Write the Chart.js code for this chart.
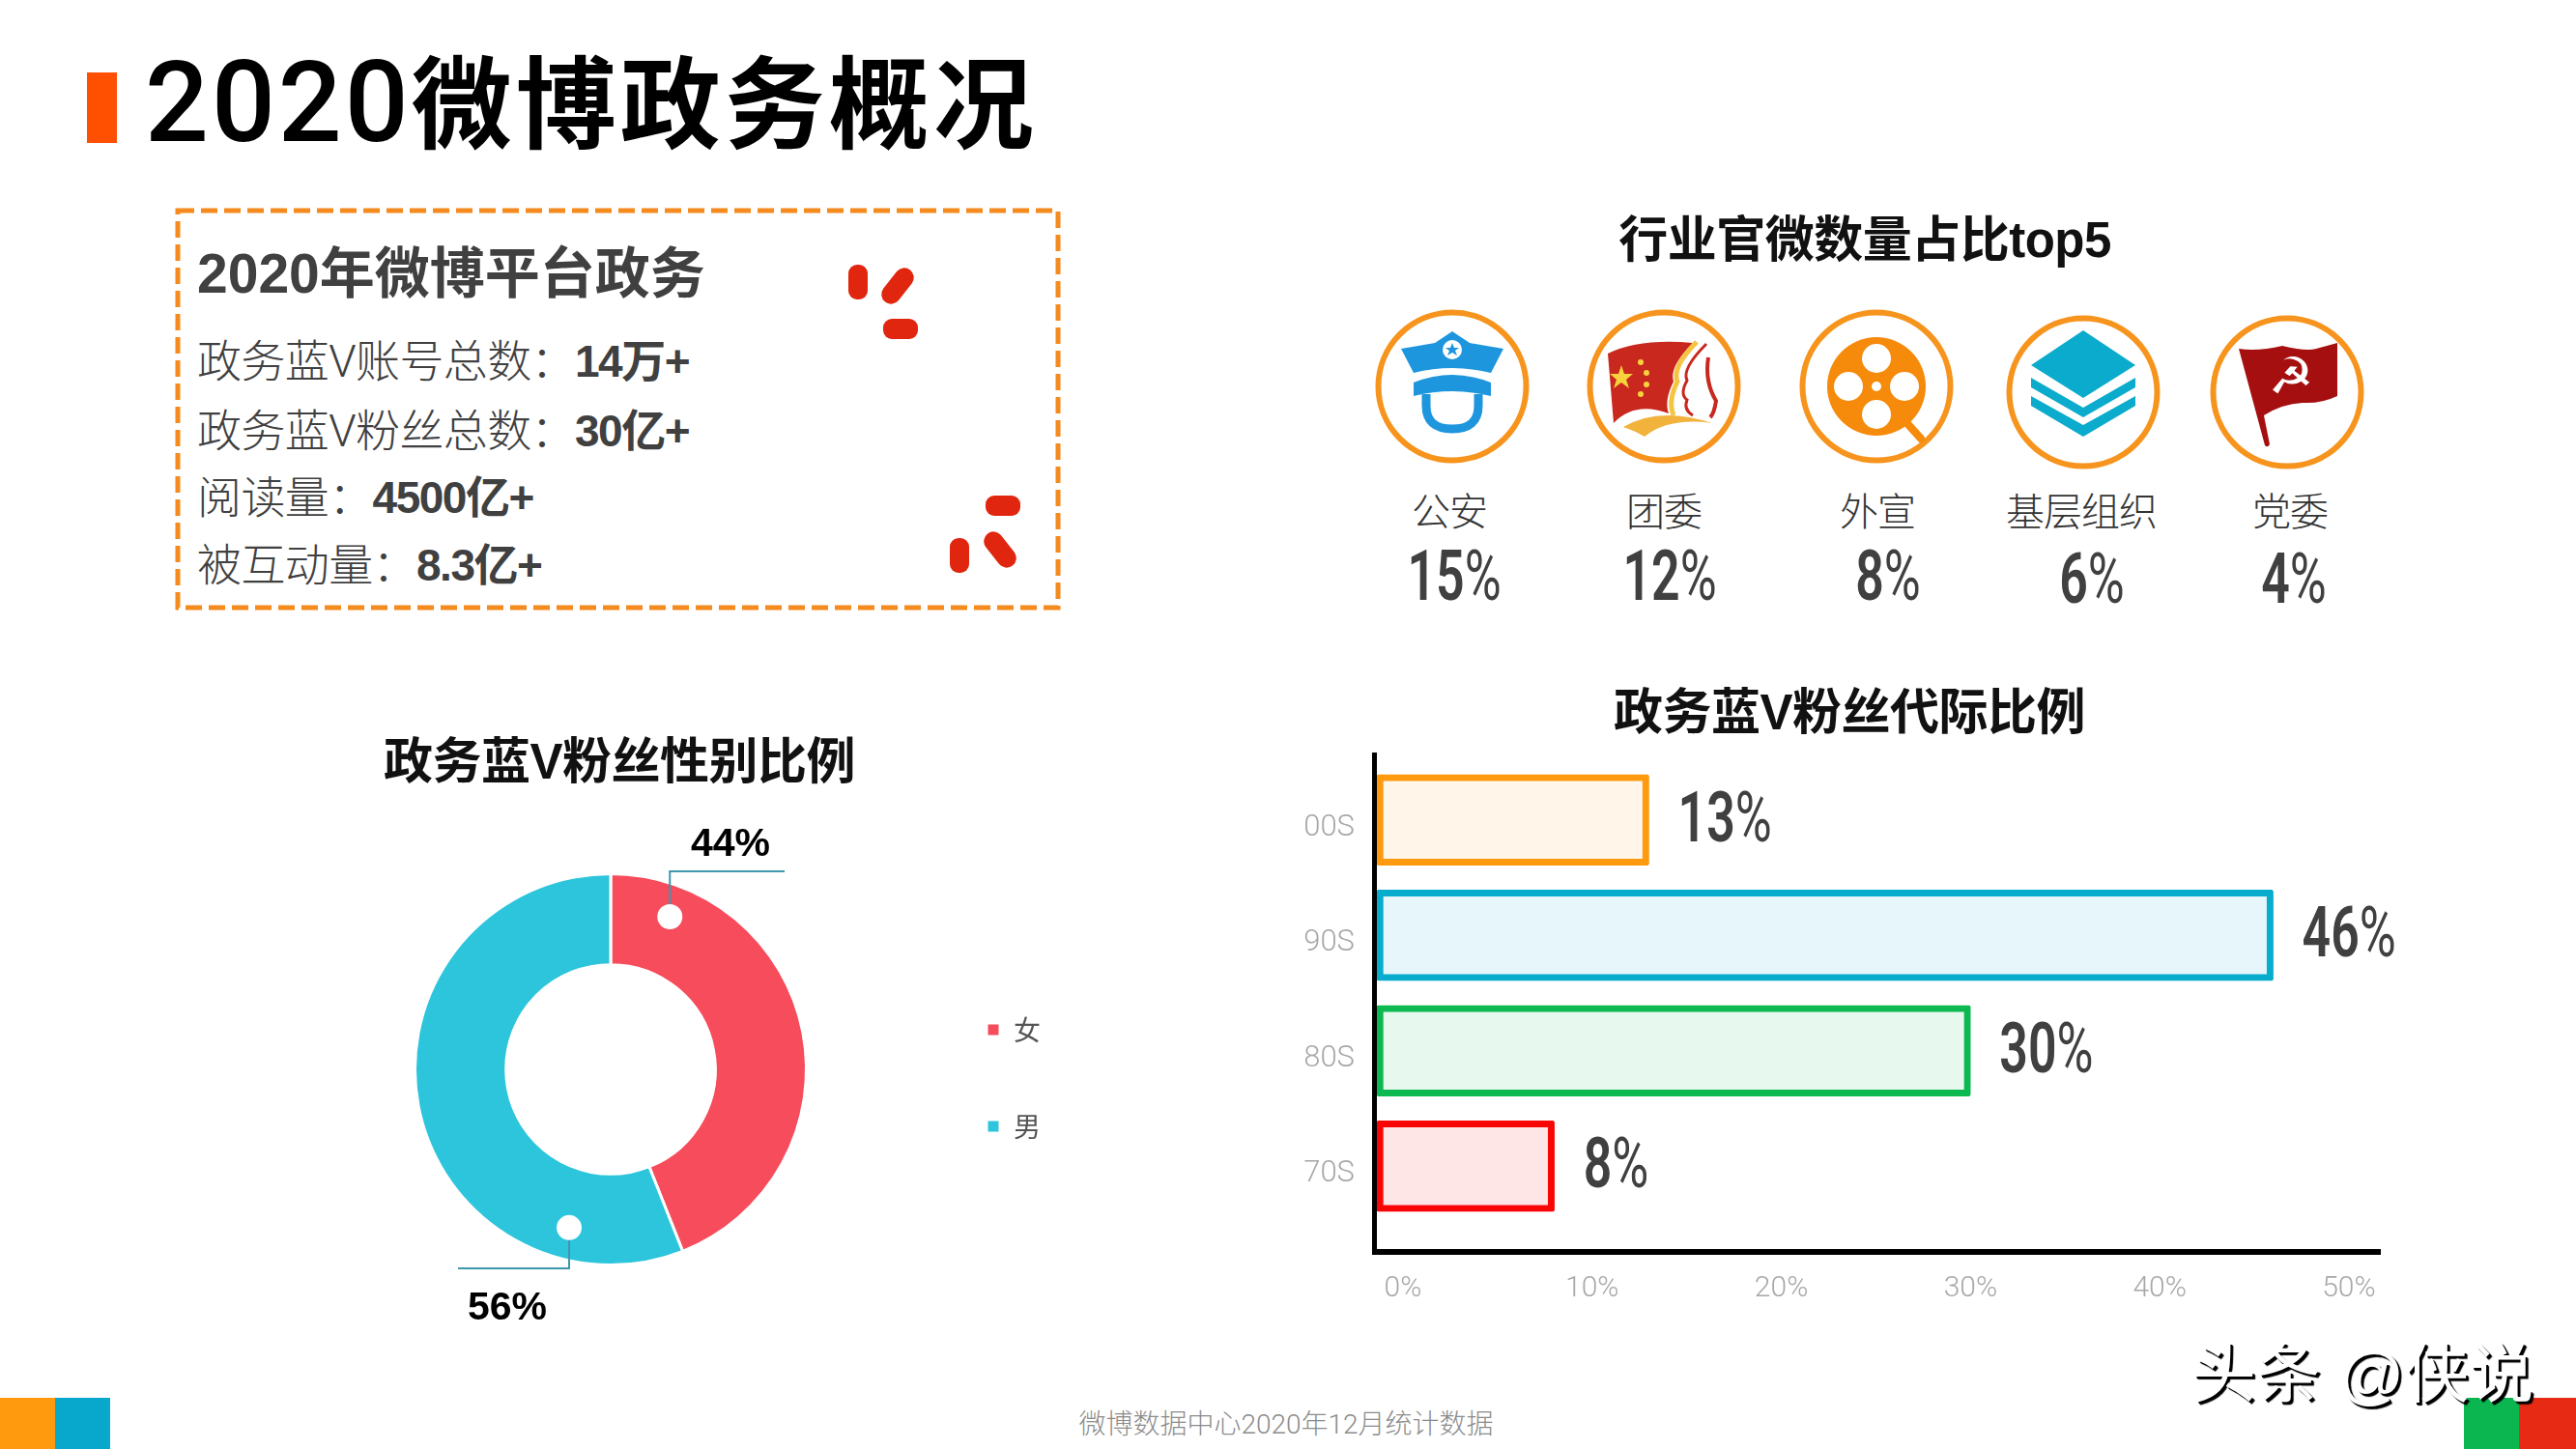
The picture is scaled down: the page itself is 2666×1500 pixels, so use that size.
<!DOCTYPE html>
<html>
<head>
<meta charset="utf-8">
<script src="https://cdn.jsdelivr.net/npm/chart.js@4"></script>
<style>
html, body { margin: 0; padding: 0; background: #fff; overflow: hidden; }
body { position: relative; width: 2666px; height: 1500px; font-family: "Liberation Sans", "Noto Sans CJK SC", sans-serif; }
.t { position: absolute; white-space: nowrap; transform: translate(-50%, -50%); }
.l { position: absolute; white-space: nowrap; transform: translateY(-50%); color: #404040; }
.h2 { font-size: 51px; font-weight: 700; color: #111; letter-spacing: -0.5px; }
.info { font-family: Roboto, "Noto Sans CJK SC", sans-serif; font-size: 46px; font-weight: 300; letter-spacing: -0.6px; }
.info b { font-family: "Liberation Sans", "Noto Sans CJK SC", sans-serif; font-weight: 700; letter-spacing: -1.5px; }
.name { font-size: 40px; font-weight: 300; color: #333; letter-spacing: -1px; }
.pct { font-family: Roboto, sans-serif; font-size: 72px; font-weight: 400; color: #404040; transform: translate(-50%, -50%) scaleX(0.72); }
.pct b { font-weight: 600; }
.block { position: absolute; top: 1447px; height: 53px; }
canvas { position: absolute; }
svg { position: absolute; left: 0; top: 0; }
</style>
</head>
<body>

<svg width="2666" height="1500" viewBox="0 0 2666 1500">
	<!-- title marker and dashed box -->
	<rect x="90" y="75" width="31" height="73" fill="#FF4F00"/>
	<rect x="184" y="218" width="911" height="411" fill="none" stroke="#F58A1F" stroke-width="5" stroke-dasharray="17 7"/>

	<!-- red quote marks -->
	<g fill="#E0260F">
		<rect x="878" y="274" width="20" height="36" rx="9"/>
		<rect x="-10" y="-21" width="20" height="42" rx="10" transform="translate(929,296) rotate(38)"/>
		<rect x="914" y="330" width="36" height="21" rx="9"/>
		<rect x="1020" y="513" width="36" height="21" rx="9"/>
		<rect x="983" y="557" width="20" height="36" rx="9"/>
		<rect x="-10" y="-21" width="20" height="42" rx="10" transform="translate(1035,569) rotate(-38)"/>
	</g>

	<!-- icon rings -->
	<g fill="none" stroke="#F7941D" stroke-width="6">
		<circle cx="1503" cy="400" r="76.5"/>
		<circle cx="1722" cy="400" r="76.5"/>
		<circle cx="1942" cy="400" r="76.5"/>
		<circle cx="2156" cy="406" r="76.5"/>
		<circle cx="2367" cy="406" r="76.5"/>
	</g>

	<!-- police -->
	<g transform="translate(1503,400)" fill="#1E96DE">
		<path d="M0,-57 L18,-45 Q35,-42 53,-39 L40,-14 Q0,-24 -40,-14 L-53,-39 Q-35,-42 -18,-45 Z"/>
		<circle cx="0" cy="-38" r="10" fill="#fff"/>
		<path d="M0,-45 L2,-40 L7,-40 L3,-37 L5,-32 L0,-35 L-5,-32 L-3,-37 L-7,-40 L-2,-40 Z"/>
		<path d="M-40,-4 Q0,-20 40,-4 L40,10 Q0,0 -40,10 Z"/>
		<path d="M-27,8 V20 Q-27,44 0,44 Q27,44 27,20 V8" fill="none" stroke="#1E96DE" stroke-width="9"/>
	</g>

	<!-- flag and profile -->
	<g transform="translate(1722,400)">
		<path d="M-58,-34 Q-25,-50 30,-45 Q5,-20 10,-5 Q0,15 5,28 Q-30,15 -52,38 Z" fill="#C8281E"/>
		<path d="M-44,-22 L-41,-13 L-32,-13 L-39,-7 L-36,2 L-44,-4 L-52,2 L-49,-7 L-56,-13 L-47,-13 Z" fill="#F6D23C"/>
		<circle cx="-24" cy="-25" r="3" fill="#F6D23C"/>
		<circle cx="-18" cy="-14" r="3" fill="#F6D23C"/>
		<circle cx="-18" cy="-2" r="3" fill="#F6D23C"/>
		<circle cx="-24" cy="8" r="3" fill="#F6D23C"/>
		<path d="M34,-46 Q8,-20 14,-5 Q4,15 10,30" fill="none" stroke="#F4C542" stroke-width="5"/>
		<path d="M44,-44 Q18,-18 24,-6 Q16,8 24,14 Q20,24 30,30" fill="none" stroke="#C8281E" stroke-width="3"/>
		<path d="M46,-30 Q42,-5 54,15 Q52,28 48,32" fill="none" stroke="#C8281E" stroke-width="4"/>
		<path d="M-42,42 Q-5,20 50,38 Q5,32 -20,52 Q-30,46 -42,42 Z" fill="#F2B33D"/>
	</g>

	<!-- film reel -->
	<g transform="translate(1942,400)">
		<path d="M28,34 L46,54" stroke="#F58A0B" stroke-width="8" stroke-linecap="round"/>
		<circle r="51" fill="#F58A0B"/>
		<g fill="#fff">
			<circle cx="0" cy="-29" r="15"/>
			<circle cx="0" cy="29" r="15"/>
			<circle cx="-29" cy="0" r="15"/>
			<circle cx="29" cy="0" r="15"/>
			<circle r="5"/>
		</g>
	</g>

	<!-- layers -->
	<g transform="translate(2156,406)" fill="#0AABCC">
		<path d="M0,-64 L54,-28 L0,6 L-54,-28 Z"/>
		<path d="M-54,-15 L0,16 L54,-15 L54,-5 L0,26 L-54,-5 Z"/>
		<path d="M-54,4 L0,34 L54,4 L54,14 L0,46 L-54,14 Z"/>
	</g>

	<!-- party flag -->
	<g transform="translate(2367,406)">
		<path d="M-50,-45 Q-30,-42 -5,-48 Q20,-42 30,-45 L52,-51 L52,4 Q35,12 16,11 Q-5,12 -24,24 L-18,54 Q-20,58 -23,55 Z" fill="#A50F0F"/>
		<text x="4" y="-13" font-family="DejaVu Sans" font-size="52" font-weight="700" fill="#fff" text-anchor="middle" dominant-baseline="middle">☭</text>
	</g>
</svg>

<div class="l" style="left:150px;top:100px;font-size:104px;font-weight:700;color:#000;letter-spacing:4px"><span style="font-family:Roboto,sans-serif;font-size:116px;font-weight:500;letter-spacing:3px">2020</span>微博政务概况</div>

<div class="l" style="left:204px;top:278px;font-size:57px;font-weight:700">2020年微博平台政务</div>
<div class="l info" style="left:204px;top:370px">政务蓝V账号总数：<b>14万+</b></div>
<div class="l info" style="left:204px;top:442px">政务蓝V粉丝总数：<b>30亿+</b></div>
<div class="l info" style="left:204px;top:511px">阅读量：<b>4500亿+</b></div>
<div class="l info" style="left:204px;top:581px">被互动量：<b>8.3亿+</b></div>

<div class="t h2" style="left:1930px;top:244px">行业官微数量占比top5</div>
<div class="t h2" style="left:641px;top:784px">政务蓝V粉丝性别比例</div>
<div class="t h2" style="left:1914px;top:733px">政务蓝V粉丝代际比例</div>

<div id="industry"></div>

<canvas id="donut" width="772" height="540" style="left:315px;top:840px"></canvas>
<canvas id="bars" width="1264" height="600" style="left:1300px;top:760px"></canvas>

<div class="block" style="left:0;width:57px;background:#FF9A0F"></div>
<div class="block" style="left:57px;width:57px;background:#08A8CC"></div>
<div class="block" style="left:2550px;width:57px;background:#0BB550"></div>
<div class="block" style="left:2607px;width:59px;background:#E62A13"></div>

<div class="t" style="left:1331px;top:1472px;font-family:Roboto,'Noto Sans CJK SC',sans-serif;font-size:28px;font-weight:300;color:#8c8c8c">微博数据中心2020年12月统计数据</div>
<div class="t" style="left:2445px;top:1416px;font-size:67px;font-weight:400;color:#fff;text-shadow:2px 2px 0 #000,3px 3px 1px #000">头条 @侠说</div>

<script>
var industry_names = ['公安', '团委', '外宣', '基层组织', '党委'];
var industry_shares = [15, 12, 8, 6, 4];

var gender_labels = ['女', '男'];
var gender_values = [44, 56];

var age_labels = ['00S', '90S', '80S', '70S'];
var age_values = [13, 46, 30, 8];
var age_ticks = [0, 10, 20, 30, 40, 50];

/* where the industry captions sit */
var name_x = [1500, 1722, 1943, 2154, 2370];
var share_x = [1505, 1728, 1954, 2165, 2374];
var share_y = [596, 596, 596, 599, 599];

var holder = document.getElementById('industry');
industry_names.forEach(function (name, i) {
	var n = document.createElement('div');
	n.className = 't name';
	n.style.left = name_x[i] + 'px';
	n.style.top = '527px';
	n.textContent = name;
	holder.appendChild(n);

	var p = document.createElement('div');
	p.className = 't pct';
	p.style.left = share_x[i] + 'px';
	p.style.top = share_y[i] + 'px';
	p.innerHTML = '<b>' + industry_shares[i] + '</b>%';
	holder.appendChild(p);
});

Chart.defaults.font.family = 'Roboto, "Noto Sans CJK SC", sans-serif';
Chart.defaults.animation = false;

/* leader lines on the donut: angle from 12 o'clock, elbow, text */
var callouts = [
	{ angle: 21.2, elbow_y: -205, end_x: 180, text_x: 124, text_y: -232, index: 0 },
	{ angle: 194.7, elbow_y: 206, end_x: -158, text_x: -107, text_y: 248, index: 1 }
];

var donut_callouts = {
	id: 'donut_callouts',
	afterLayout: function (chart) {
		chart.legend.top += 9;
		chart.legend.bottom += 9;
	},
	afterDatasetsDraw: function (chart) {
		var arc = chart.getDatasetMeta(0).data[0];
		var ctx = chart.ctx;
		var ring = (arc.outerRadius + arc.innerRadius) / 2 + 14;
		ctx.save();
		callouts.forEach(function (c) {
			var a = c.angle * Math.PI / 180;
			var dx = Math.sin(a) * ring;
			var dy = -Math.cos(a) * ring;
			ctx.strokeStyle = '#3F97AE';
			ctx.lineWidth = 2;
			ctx.beginPath();
			ctx.moveTo(arc.x + dx, arc.y + dy);
			ctx.lineTo(arc.x + dx, arc.y + c.elbow_y);
			ctx.lineTo(arc.x + c.end_x, arc.y + c.elbow_y);
			ctx.stroke();
			ctx.fillStyle = '#fff';
			ctx.beginPath();
			ctx.arc(arc.x + dx, arc.y + dy, 13, 0, Math.PI * 2);
			ctx.fill();
			ctx.fillStyle = '#000';
			ctx.font = '700 41px "Liberation Sans"';
			ctx.textAlign = 'center';
			ctx.textBaseline = 'middle';
			ctx.fillText(gender_values[c.index] + '%', arc.x + c.text_x, arc.y + c.text_y);
		});
		ctx.restore();
	}
};

new Chart(document.getElementById('donut').getContext('2d'), {
	type: 'doughnut',
	data: {
		labels: gender_labels,
		datasets: [{
			data: gender_values,
			backgroundColor: ['#F64C5C', '#2CC5DC'],
			borderColor: '#fff',
			borderWidth: 3,
			hoverOffset: 0
		}]
	},
	options: {
		responsive: false,
		cutout: '53.5%',
		layout: { padding: { top: 63, bottom: 69 } },
		plugins: {
			tooltip: { enabled: false },
			legend: {
				position: 'right',
				labels: {
					boxWidth: 14,
					boxHeight: 14,
					padding: 72,
					color: '#555',
					font: { size: 28, family: '"Noto Sans CJK SC"' }
				}
			}
		}
	},
	plugins: [donut_callouts]
});

/* axis lines overshoot the plot area in the reference, and the % labels sit right of each bar */
var bar_extras = {
	id: 'bar_extras',
	afterDatasetsDraw: function (chart) {
		var ctx = chart.ctx;
		var area = chart.chartArea;
		ctx.save();
		ctx.fillStyle = '#000';
		ctx.fillRect(area.left - 5, area.top - 10, 5, area.bottom - area.top + 42);
		ctx.fillRect(area.left - 5, area.bottom + 26, area.right - area.left + 5, 6);

		ctx.textBaseline = 'middle';
		ctx.textAlign = 'left';
		ctx.fillStyle = '#404040';
		chart.getDatasetMeta(0).data.forEach(function (bar, i) {
			ctx.save();
			ctx.translate(bar.x + 30, bar.y + 4);
			ctx.scale(0.72, 1);
			ctx.font = '600 72px Roboto';
			var digits = String(age_values[i]);
			ctx.fillText(digits, 0, 0);
			var w = ctx.measureText(digits).width;
			ctx.font = '400 72px Roboto';
			ctx.fillText('%', w, 0);
			ctx.restore();
		});
		ctx.restore();
	}
};

/* bars start a little left of the 0% tick label, as in the reference */
var axis_min = -1.38;
var axis_max = 51.69;

new Chart(document.getElementById('bars').getContext('2d'), {
	type: 'bar',
	data: {
		labels: age_labels,
		datasets: [{
			data: age_values,
			base: axis_min,
			barThickness: 94,
			backgroundColor: ['#FFF5E9', '#E6F6FA', '#E7F8EE', '#FEE6E6'],
			borderColor: ['#FF9A0F', '#08ACCC', '#0BB950', '#F80606'],
			borderWidth: 7,
			borderRadius: 2,
			borderSkipped: false
		}]
	},
	options: {
		responsive: false,
		indexAxis: 'y',
		layout: { padding: { top: 29, right: 100 } },
		plugins: { legend: { display: false }, tooltip: { enabled: false } },
		scales: {
			x: {
				min: axis_min,
				max: axis_max,
				afterBuildTicks: function (scale) {
					scale.ticks = age_ticks.map(function (v) { return { value: v }; });
				},
				afterFit: function (scale) {
					scale.height = 93;
					scale.paddingLeft = 0;
					scale.paddingRight = 0;
				},
				grid: { display: false, drawTicks: false },
				border: { display: false },
				ticks: {
					padding: 49,
					maxRotation: 0,
					autoSkip: false,
					color: '#a8a8a8',
					font: { size: 30, weight: '300' },
					callback: function (v) { return v + '%'; }
				}
			},
			y: {
				afterFit: function (scale) {
					scale.width = 125;
					scale.paddingTop = 0;
					scale.paddingBottom = 0;
				},
				grid: { display: false, drawTicks: false },
				border: { display: false },
				ticks: {
					padding: 23,
					labelOffset: 8,
					color: '#a8a8a8',
					font: { size: 31, weight: '300' }
				}
			}
		}
	},
	plugins: [bar_extras]
});
</script>
</body>
</html>
